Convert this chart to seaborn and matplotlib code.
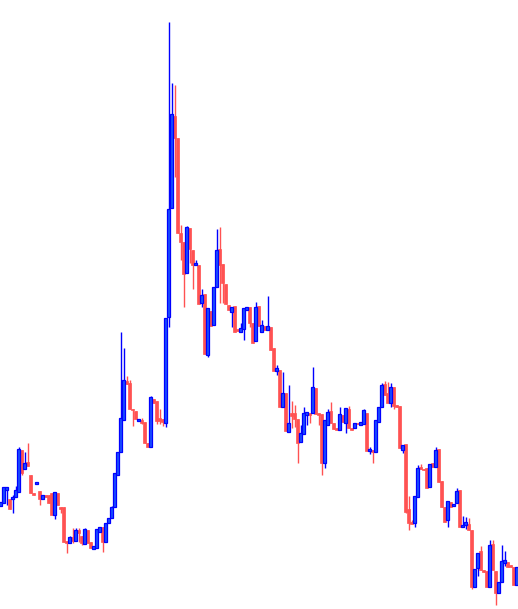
import numpy as np
import pandas as pd
import seaborn as sns
import matplotlib
matplotlib.use("Agg")
import matplotlib.pyplot as plt

# ---- data (price units) ----
open_ = [103, 106, 119, 110, 110, 112, 117, 159, 140, 147,
         134, 116, 125, 118, 110, 114, 114, 116, 94, 116,
         102, 102, 68, 66, 72, 68, 79, 73, 65, 79,
         67, 60, 61, 77, 82, 67, 86, 91, 102, 134,
         157, 189, 228, 226, 200, 198, 188, 189, 187, 166,
         162, 210, 208, 191, 190, 186, 292, 401, 493, 471,
         376, 367, 336, 381, 359, 344, 344, 306, 315, 254,
         298, 284, 322, 360, 345, 325, 304, 297, 303, 280,
         277, 280, 299, 302, 286, 268, 303, 277, 283, 279,
         282, 261, 238, 239, 202, 216, 177, 196, 196, 190,
         167, 175, 194, 196, 196, 221, 196, 195, 146, 184,
         198, 186, 181, 179, 194, 186, 200, 181, 181, 186,
         184, 185, 196, 158, 159, 157, 187, 202, 225, 216,
         206, 222, 204, 203, 159, 165, 100, 87, 86, 112,
         142, 140, 141, 122, 146, 142, 160, 128, 102, 89,
         107, 103, 106, 119, 82, 84, 85, 79, 22, 41,
         58, 39, 38, 22, 65, 38, 16, 27, 46, 47,
         44, 42, 24]
close = [107, 122, 122, 100, 112, 119, 160, 136, 146, 143,
         116, 114, 127, 110, 114, 112, 106, 94, 117, 104,
         100, 67, 66, 72, 68, 79, 76, 66, 80, 66,
         61, 63, 80, 82, 67, 86, 91, 102, 136, 157,
         191, 229, 225, 200, 199, 190, 190, 186, 166, 162,
         212, 206, 188, 188, 187, 291, 400, 495, 471, 376,
         367, 335, 382, 360, 344, 346, 305, 314, 255, 301,
         283, 322, 359, 344, 326, 305, 299, 302, 277, 278,
         281, 301, 302, 286, 266, 302, 283, 284, 279, 283,
         259, 238, 241, 202, 216, 178, 186, 193, 190, 166,
         176, 196, 197, 194, 222, 195, 194, 146, 189, 197,
         186, 180, 179, 195, 187, 201, 181, 179, 186, 185,
         187, 199, 158, 160, 157, 189, 202, 224, 214, 206,
         222, 203, 202, 161, 164, 97, 86, 85, 113, 141,
         140, 139, 121, 145, 142, 159, 127, 102, 87, 108,
         102, 105, 118, 82, 84, 87, 79, 22, 40, 56,
         39, 37, 22, 64, 39, 16, 27, 48, 49, 42,
         42, 24, 42]
high = [107, 122, 122, 110, 114, 123, 162, 159, 157, 166,
        134, 116, 127, 118, 114, 114, 114, 116, 117, 116,
        102, 102, 68, 73, 81, 81, 81, 73, 81, 79,
        67, 63, 80, 82, 82, 86, 91, 103, 136, 157,
        277, 261, 233, 229, 200, 198, 190, 191, 187, 166,
        213, 210, 208, 200, 190, 291, 587, 526, 524, 471,
        384, 367, 383, 381, 359, 349, 344, 320, 315, 301,
        298, 322, 380, 382, 345, 325, 304, 302, 303, 280,
        286, 301, 302, 302, 286, 307, 303, 289, 283, 313,
        282, 261, 244, 239, 237, 216, 224, 208, 204, 190,
        184, 202, 197, 196, 242, 221, 196, 195, 189, 200,
        207, 186, 181, 202, 194, 201, 203, 181, 186, 186,
        187, 200, 196, 162, 159, 189, 202, 226, 228, 227,
        226, 222, 204, 203, 164, 165, 113, 89, 113, 144,
        145, 140, 141, 145, 146, 162, 160, 128, 102, 108,
        107, 105, 121, 119, 93, 92, 91, 79, 40, 56,
        63, 39, 38, 69, 69, 38, 27, 64, 58, 47,
        44, 42, 42]
low = [103, 106, 104, 100, 96, 112, 117, 134, 140, 143,
       116, 114, 125, 104, 110, 112, 106, 94, 90, 104,
       96, 67, 56, 66, 66, 68, 67, 64, 65, 66,
       61, 60, 61, 77, 57, 67, 86, 91, 102, 134,
       157, 189, 225, 200, 183, 190, 188, 185, 166, 162,
       162, 206, 185, 185, 183, 182, 282, 401, 432, 376,
       349, 302, 336, 346, 320, 344, 305, 302, 255, 252,
       283, 284, 322, 306, 306, 305, 299, 282, 277, 278,
       277, 269, 299, 282, 266, 268, 283, 277, 279, 279,
       259, 238, 234, 202, 202, 178, 177, 181, 182, 146,
       167, 175, 184, 186, 196, 195, 184, 134, 141, 184,
       186, 180, 179, 179, 187, 176, 181, 179, 181, 185,
       184, 185, 158, 155, 146, 157, 187, 202, 214, 206,
       202, 200, 202, 161, 156, 96, 79, 85, 82, 112,
       140, 139, 121, 122, 142, 142, 127, 102, 87, 82,
       102, 103, 106, 82, 82, 80, 79, 20, 22, 33,
       39, 37, 22, 22, 39, 4, 16, 27, 43, 42,
       42, 24, 24]

df = pd.DataFrame({"open": open_, "high": high, "low": low, "close": close})
df["idx"] = np.arange(len(df))
df["up"] = df["close"] >= df["open"]

# ---- style ----
sns.set_theme(style="white")
UP_EDGE = "#0000ff"
UP_FILL = "#1a50ff"
DOWN = "#ff5252"

fig = plt.figure(figsize=(5.18, 6.09), dpi=100)
ax = fig.add_axes([0, 0, 1, 1])
ax.set_facecolor("white")

n = len(df)
width = 0.82
min_h = 1.4

for up, grp in df.groupby("up"):
    wick_color = UP_EDGE if up else DOWN
    ax.vlines(grp["idx"], grp["low"], grp["high"], color=wick_color,
              linewidth=1.0, zorder=1)
    bottom = np.minimum(grp["open"], grp["close"])
    height = np.maximum(np.abs(grp["close"] - grp["open"]), min_h)
    if up:
        ax.bar(grp["idx"], height, bottom=bottom, width=width,
               color=UP_FILL, edgecolor=UP_EDGE, linewidth=0.9, zorder=2)
    else:
        ax.bar(grp["idx"], height, bottom=bottom, width=width,
               color=DOWN, edgecolor=DOWN, linewidth=0.5, zorder=2)

ax.set_xlim(-0.17, -0.17 + 518 / 3.0)
ax.set_ylim(0, 609)
ax.set_axis_off()

fig.savefig("out.png", dpi=100, facecolor="white")
